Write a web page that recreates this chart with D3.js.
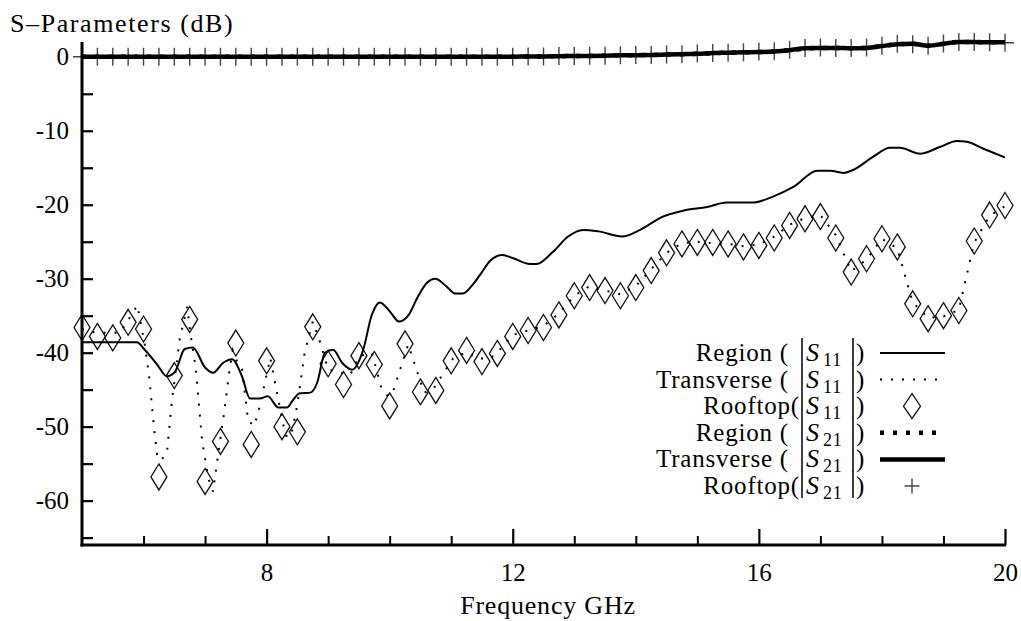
<!DOCTYPE html>
<html>
<head>
<meta charset="utf-8">
<script src="https://cdn.jsdelivr.net/npm/d3@7"></script>
<style>
  body { margin: 0; background: #fff; }
  svg text { fill: #000; letter-spacing: 0.8px; }
</style>
</head>
<body>
<svg id="chart" width="1021" height="621"></svg>
<script>
// --------------------------------------
// DATA
// --------------------------------------
// common frequency grid, 0.25 GHz steps
var freqs = d3.range(5, 20.001, 0.25);

// Region |S11| (solid) - own sampling
var regionS11Freq = [5.00, 5.89, 6.02, 6.22, 6.38, 6.51, 6.67, 6.80, 7.00, 7.13, 7.29, 7.44, 7.60, 7.73, 7.89,
    8.02, 8.19, 8.33, 8.43, 8.54, 8.71, 8.82, 8.95, 9.08, 9.23, 9.39, 9.57, 9.71, 9.84, 10.01, 10.15, 10.30,
    10.46, 10.61, 10.74, 10.93, 11.06, 11.19, 11.35, 11.50, 11.63, 11.83, 12.00, 12.28, 12.39, 12.65, 12.90,
    13.14, 13.39, 13.78, 14.07, 14.44, 14.77, 15.16, 15.48, 15.91, 16.23, 16.56, 16.95, 17.16, 17.37, 17.53,
    17.86, 18.13, 18.29, 18.62, 18.94, 19.22, 19.38, 19.64, 20.00];
var regionS11 = [-38.6, -38.6, -39.6, -41.6, -43.2, -42.6, -39.5, -39.3, -42.0, -42.7, -41.4, -40.9, -43.2, -46.2, -46.2,
    -45.9, -47.4, -47.4, -46.4, -45.5, -45.4, -44.1, -40.0, -39.6, -41.4, -42.3, -39.6, -34.9, -33.2, -34.5, -35.8, -35.0,
    -32.4, -30.5, -30.0, -31.1, -32.0, -32.0, -30.8, -29.1, -27.6, -26.8, -27.2, -28.0, -28.0, -26.4, -24.3,
    -23.4, -23.6, -24.3, -23.4, -21.6, -20.8, -20.3, -19.7, -19.7, -18.9, -17.6, -15.4, -15.4, -15.7, -15.3,
    -13.5, -12.3, -12.3, -13.1, -12.2, -11.4, -11.5, -12.4, -13.6];

// Transverse |S11| (dotted) - own sampling
var transS11Freq = [5.00, 5.21, 5.62, 5.90, 6.02, 6.09, 6.17, 6.22, 6.28, 6.38, 6.46, 6.59, 6.71, 6.76, 6.85,
    6.95, 7.05, 7.13, 7.19, 7.31, 7.39, 7.45, 7.52, 7.60, 7.70, 7.80, 7.89, 8.06, 8.14, 8.27, 8.33, 8.41,
    8.50, 8.62, 8.75, 8.87, 9.00, 9.36, 9.50, 9.71, 9.86, 9.97, 10.05, 10.30, 10.56, 10.70, 10.92, 11.03,
    11.25, 11.43, 11.63, 11.76, 12.00, 12.25, 12.50, 12.75, 13.00, 13.25, 13.50, 13.75, 14.00, 14.25, 14.50,
    14.75, 15.00, 15.25, 15.50, 15.75, 16.00, 16.25, 16.50, 16.75, 17.00, 17.25, 17.50, 17.75, 18.00, 18.25,
    18.50, 18.75, 19.00, 19.25, 19.50, 19.75, 20.00];
var transS11 = [-36.8, -37.3, -37.3, -33.6, -38.9, -43.1, -50.1, -53.8, -54.6, -53.6, -46.6, -38.0, -33.8, -37.3, -42.2,
    -51.8, -56.9, -58.8, -55.1, -48.1, -42.8, -39.7, -41.2, -42.2, -49.2, -49.9, -47.2, -40.7, -44.2, -49.7, -51.5, -50.8,
    -47.0, -39.9, -35.8, -38.6, -42.3, -43.0, -40.5, -40.0, -44.6, -45.9, -45.4, -38.9, -45.4, -45.0, -42.2, -40.8,
    -39.9, -40.8, -40.8, -39.9, -37.6, -37.0, -36.4, -34.7, -32.3, -31.0, -31.6, -32.1, -31.0, -28.7, -26.5,
    -25.2, -25.0, -25.2, -25.3, -25.6, -25.4, -24.3, -22.7, -21.8, -21.4, -24.1, -29.0, -27.4, -24.6, -25.9,
    -33.2, -35.3, -35.1, -34.2, -25.1, -21.5, -20.2];

// Rooftop |S11| (diamonds) on the 0.25 GHz grid
var rooftopS11 = [-36.6, -37.8, -38.0, -35.9, -36.8, -56.8, -43.1, -35.5, -57.4, -52.0, -38.7, -52.4, -41.1,
    -50.0, -50.7, -36.5, -41.5, -44.3, -40.4, -41.6, -47.2, -38.8, -45.3, -45.1, -41.1, -39.7, -41.2, -40.1,
    -37.8, -37.0, -36.6, -34.9, -32.3, -31.2, -31.6, -32.3, -31.2, -28.9, -26.5, -25.3, -25.1, -25.1, -25.3,
    -25.7, -25.5, -24.5, -22.8, -21.9, -21.6, -24.5, -29.1, -27.3, -24.6, -25.7, -33.4, -35.4, -35.0, -34.3,
    -24.9, -21.4, -20.1];

// |S21| on the 0.25 GHz grid
var regionS21 = [0, 0, 0, 0, 0, 0, 0, 0, 0, 0, 0, 0, 0, 0, 0, 0, 0, 0, 0, 0, 0, 0, 0, 0, 0, 0, 0, 0, 0,
    0.05, 0.05, 0.08, 0.1, 0.12, 0.15, 0.2, 0.22, 0.25, 0.3, 0.35, 0.4, 0.5, 0.55, 0.6, 0.65, 0.72, 0.9,
    1.1, 1.2, 1.2, 1.15, 1.2, 1.45, 1.7, 1.75, 1.5, 1.75, 2.0, 2.0, 1.95, 1.95];
var transS21 = [0, 0, 0, 0, 0, 0, 0, 0, 0, 0, 0, 0, 0, 0, 0, 0, 0, 0, 0, 0, 0, 0, 0, 0, 0, 0, 0, 0, 0,
    0.05, 0.05, 0.08, 0.1, 0.12, 0.15, 0.2, 0.22, 0.25, 0.3, 0.35, 0.4, 0.5, 0.55, 0.6, 0.65, 0.72, 0.9,
    1.15, 1.2, 1.2, 1.15, 1.2, 1.45, 1.7, 1.75, 1.5, 1.75, 2.0, 2.0, 1.95, 1.95];
var rooftopS21 = [0, 0, 0, 0, 0, 0, 0, 0, 0, 0, 0, 0, 0, 0, 0, 0, 0, 0, 0, 0, 0, 0, 0, 0, 0, 0, 0, 0, 0,
    0.05, 0.05, 0.1, 0.1, 0.15, 0.15, 0.2, 0.25, 0.25, 0.3, 0.35, 0.45, 0.5, 0.55, 0.6, 0.7, 0.75, 0.95,
    1.2, 1.25, 1.2, 1.2, 1.25, 1.5, 1.75, 1.7, 1.5, 1.8, 2.0, 2.0, 1.95, 1.9];

// ticks / labels
var yMajorTicks = [-60, -50, -40, -30, -20, -10, 0];
var yMinorTicks = [-65, -55, -45, -35, -25, -15, -5];
var xMajorTicks = [8, 12, 16, 20];
var xMinorTicks = [6, 7, 9, 10, 11, 13, 14, 15, 17, 18, 19];
var legendLabels = ["Region (", "Transverse (", "Rooftop(", "Region (", "Transverse (", "Rooftop("];
var legendSubs = ["11", "11", "11", "21", "21", "21"];
var legendKinds = ["solid", "dotted", "diamond", "thickDotted", "thick", "plus"];

// --------------------------------------
// SETUP
// --------------------------------------
var SERIF = '"Liberation Serif", "DejaVu Serif", serif';
var svg = d3.select('#chart');
var x = d3.scaleLinear().domain([5, 20]).range([82, 1005]);
var y = d3.scaleLinear().domain([-66, 2]).range([545, 42]);

function pairs(fs, vs) {
    return fs.map(function(f, i) { return [f, vs[i]]; });
}

var line = d3.line()
    .x(function(d) { return x(d[0]); })
    .y(function(d) { return y(d[1]); });

var smoothLine = d3.line()
    .x(function(d) { return x(d[0]); })
    .y(function(d) { return y(d[1]); })
    .curve(d3.curveMonotoneX);

function diamondPath(w, h) {
    return 'M0,' + (-h) + 'L' + w + ',0L0,' + h + 'L' + (-w) + ',0Z';
}
function plusPath(s) {
    return 'M' + (-s) + ',0H' + s + 'M0,' + (-s) + 'V' + s;
}

// --------------------------------------
// AXES
// --------------------------------------
// y ticks (inward) and labels
svg.append('g').attr('transform', 'translate(82,0)')
    .call(d3.axisRight(y).tickValues(yMajorTicks.concat(yMinorTicks)).tickSize(11).tickFormat(''))
    .call(function(g) { g.select('.domain').remove(); g.selectAll('line').attr('stroke', '#000').attr('stroke-width', 2.2); });

svg.append('g').attr('transform', 'translate(82,0)')
    .call(d3.axisLeft(y).tickValues(yMajorTicks).tickSize(0).tickPadding(13).tickFormat(function(d) { return String(d); }))
    .call(function(g) {
        g.attr('font-family', SERIF).attr('font-size', 25);
        g.select('.domain').remove();
        g.selectAll('text').style('letter-spacing', '0px');
    });

// x ticks (inward) and labels
svg.append('g').attr('transform', 'translate(0,545)')
    .call(d3.axisTop(x).tickValues(xMajorTicks).tickSize(16).tickFormat(''))
    .call(function(g) { g.select('.domain').remove(); g.selectAll('line').attr('stroke', '#000').attr('stroke-width', 2.2); });
svg.append('g').attr('transform', 'translate(0,545)')
    .call(d3.axisTop(x).tickValues(xMinorTicks).tickSize(9).tickFormat(''))
    .call(function(g) { g.select('.domain').remove(); g.selectAll('line').attr('stroke', '#000').attr('stroke-width', 2); });

svg.append('g').attr('transform', 'translate(0,545)')
    .call(d3.axisBottom(x).tickValues(xMajorTicks).tickSize(0).tickPadding(18).tickFormat(function(d) { return String(d); }))
    .call(function(g) {
        g.attr('font-family', SERIF).attr('font-size', 25);
        g.select('.domain').remove();
        g.selectAll('text').style('letter-spacing', '0px');
    });

// --------------------------------------
// SERIES
// --------------------------------------
var plot = svg.append('g');

// rooftop S11 diamonds
plot.selectAll('.diamond').data(pairs(freqs, rooftopS11)).enter()
    .append('path').attr('class', 'diamond')
    .attr('d', diamondPath(8, 13))
    .attr('transform', function(d) { return 'translate(' + x(d[0]) + ',' + y(d[1]) + ')'; })
    .attr('fill', 'none').attr('stroke', '#111').attr('stroke-width', 1.3);

// transverse S11 dotted
plot.append('path').datum(pairs(transS11Freq, transS11))
    .attr('d', line).attr('fill', 'none').attr('stroke', '#000')
    .attr('stroke-width', 2).attr('stroke-dasharray', '2,9');

// region S11 solid
plot.append('path').datum(pairs(regionS11Freq, regionS11))
    .attr('d', smoothLine).attr('fill', 'none').attr('stroke', '#000').attr('stroke-width', 2);

// rooftop S21 plus markers
plot.selectAll('.plus').data(pairs(freqs, rooftopS21)).enter()
    .append('path').attr('class', 'plus')
    .attr('d', plusPath(9))
    .attr('transform', function(d) { return 'translate(' + x(d[0]) + ',' + y(d[1]) + ')'; })
    .attr('fill', 'none').attr('stroke', '#444').attr('stroke-width', 1.4);

// region S21 thick dotted
plot.append('path').datum(pairs(freqs, regionS21))
    .attr('d', smoothLine).attr('fill', 'none').attr('stroke', '#000')
    .attr('stroke-width', 4.5).attr('stroke-dasharray', '4,9');

// transverse S21 thick
plot.append('path').datum(pairs(freqs, transS21))
    .attr('d', smoothLine).attr('fill', 'none').attr('stroke', '#000').attr('stroke-width', 4.5);

// axis lines
svg.append('line').attr('x1', 82).attr('x2', 82).attr('y1', 42).attr('y2', 546.5)
    .attr('stroke', '#000').attr('stroke-width', 3);
svg.append('line').attr('x1', 80.5).attr('x2', 1006).attr('y1', 545).attr('y2', 545)
    .attr('stroke', '#000').attr('stroke-width', 3);

// --------------------------------------
// TITLES
// --------------------------------------
svg.append('text').attr('x', 10).attr('y', 32).attr('font-size', 26).attr('font-family', SERIF)
    .style('letter-spacing', '1.6px').text('S\u2013Parameters (dB)');
svg.append('text').attr('x', 548).attr('y', 614).attr('font-size', 26).attr('font-family', SERIF)
    .attr('text-anchor', 'middle').text('Frequency GHz');

// --------------------------------------
// LEGEND
// --------------------------------------
var legend = svg.append('g').attr('font-family', SERIF);
legendLabels.forEach(function(lbl, i) {
    var cy = 353 + i * 26.6;
    var row = legend.append('g');
    var endX = lbl === 'Rooftop(' ? 800 : 789;
    row.append('text').attr('x', endX).attr('y', cy + 8).attr('font-size', 25)
        .attr('text-anchor', 'end').text(lbl);
    row.append('line').attr('x1', 802).attr('x2', 802).attr('y1', cy - 15).attr('y2', cy + 12)
        .attr('stroke', '#000').attr('stroke-width', 1.5);
    row.append('line').attr('x1', 853).attr('x2', 853).attr('y1', cy - 15).attr('y2', cy + 12)
        .attr('stroke', '#000').attr('stroke-width', 1.5);
    row.append('text').attr('x', 806).attr('y', cy + 8).attr('font-size', 26)
        .attr('font-style', 'italic').text('S');
    row.append('text').attr('x', 823).attr('y', cy + 13).attr('font-size', 18)
        .text(legendSubs[i]);
    row.append('text').attr('x', 856).attr('y', cy + 8).attr('font-size', 25).text(')');

    var kind = legendKinds[i];
    if (kind === 'solid') {
        row.append('line').attr('x1', 880).attr('x2', 945).attr('y1', cy).attr('y2', cy)
            .attr('stroke', '#000').attr('stroke-width', 2);
    } else if (kind === 'dotted') {
        row.append('line').attr('x1', 880).attr('x2', 945).attr('y1', cy).attr('y2', cy)
            .attr('stroke', '#000').attr('stroke-width', 2).attr('stroke-dasharray', '2,9');
    } else if (kind === 'thickDotted') {
        row.append('line').attr('x1', 880).attr('x2', 945).attr('y1', cy).attr('y2', cy)
            .attr('stroke', '#000').attr('stroke-width', 4.5).attr('stroke-dasharray', '4,9');
    } else if (kind === 'thick') {
        row.append('line').attr('x1', 880).attr('x2', 945).attr('y1', cy).attr('y2', cy)
            .attr('stroke', '#000').attr('stroke-width', 4.5);
    } else if (kind === 'diamond') {
        row.append('path').attr('d', diamondPath(8.5, 12.5))
            .attr('transform', 'translate(912,' + cy + ')')
            .attr('fill', 'none').attr('stroke', '#111').attr('stroke-width', 1.3);
    } else if (kind === 'plus') {
        row.append('path').attr('d', plusPath(7.5))
            .attr('transform', 'translate(912,' + cy + ')')
            .attr('fill', 'none').attr('stroke', '#444').attr('stroke-width', 1.4);
    }
});
</script>
</body>
</html>
